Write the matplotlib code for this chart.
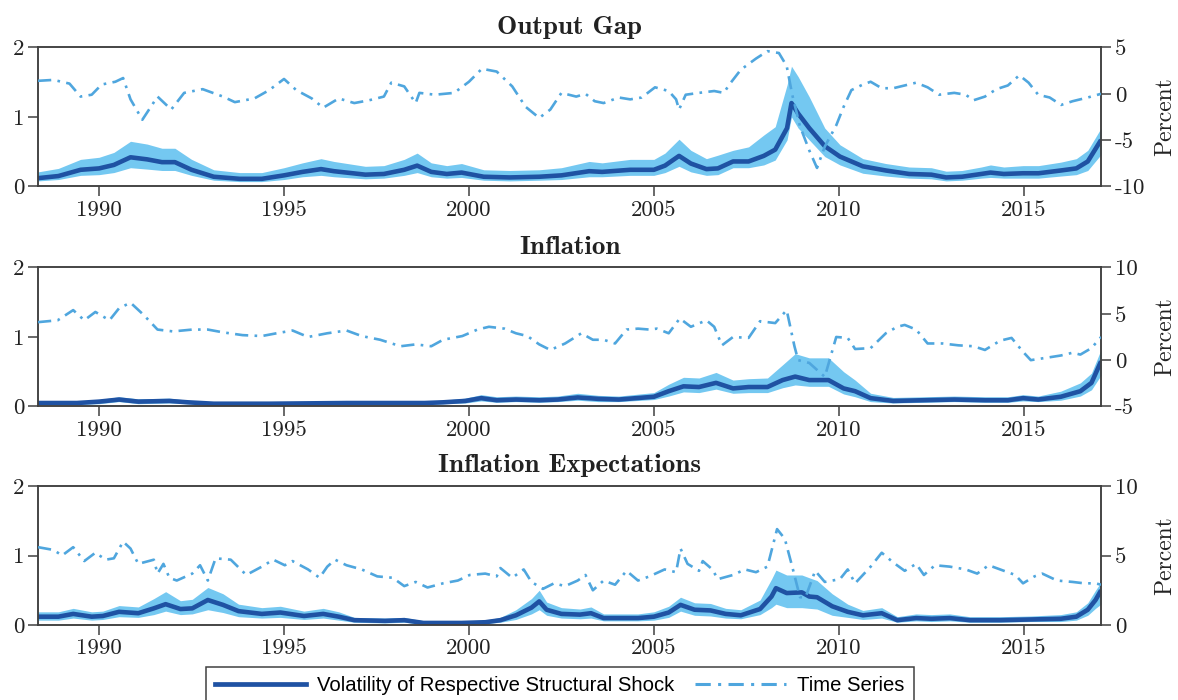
import matplotlib
matplotlib.use("Agg")
import matplotlib.pyplot as plt
from matplotlib.lines import Line2D

plt.rcParams['axes.unicode_minus'] = False
plt.rcParams['axes.formatter.use_mathtext'] = True

# ---------------- data ----------------
titles = ["Output Gap", "Inflation", "Inflation Expectations"]
years = [1990, 1995, 2000, 2005, 2010, 2015]
left_ticks = [0, 1, 2]
right_ticks_1 = [-10, -5, 0, 5]
right_ticks_2 = [-5, 0, 5, 10]
right_ticks_3 = [0, 5, 10]

# Panel 1: Output gap
vol1_dates = [1988.35, 1988.9, 1989.5, 1990.0, 1990.4, 1990.85, 1991.3, 1991.7, 1992.05, 1992.5,
              1993.1, 1993.8, 1994.4, 1995.0, 1995.5, 1996.0, 1996.35, 1997.2, 1997.7, 1998.25,
              1998.6, 1998.98, 1999.4, 1999.8, 2000.4, 2001.1, 2001.9, 2002.5, 2003.25, 2003.6,
              2004.36, 2005.0, 2005.3, 2005.68, 2006.0, 2006.42, 2006.73, 2007.14, 2007.56, 2007.97,
              2008.28, 2008.6, 2008.72, 2008.9, 2009.2, 2009.62, 2010.03, 2010.65, 2011.27, 2011.9,
              2012.5, 2012.9, 2013.33, 2013.85, 2014.1, 2014.46, 2014.98, 2015.4, 2016.0, 2016.42,
              2016.73, 2017.09]
vol1 = [0.12, 0.15, 0.24, 0.26, 0.31, 0.42, 0.39, 0.35, 0.35, 0.24,
        0.14, 0.11, 0.11, 0.16, 0.21, 0.25, 0.22, 0.17, 0.18, 0.24,
        0.30, 0.21, 0.18, 0.20, 0.14, 0.13, 0.14, 0.16, 0.22, 0.21,
        0.24, 0.24, 0.30, 0.44, 0.33, 0.25, 0.26, 0.36, 0.36, 0.44,
        0.53, 0.84, 1.20, 1.05, 0.84, 0.58, 0.43, 0.29, 0.23, 0.18,
        0.17, 0.13, 0.14, 0.18, 0.20, 0.18, 0.19, 0.19, 0.23, 0.26,
        0.36, 0.67]
vol1_up = [0.21, 0.26, 0.39, 0.42, 0.49, 0.65, 0.61, 0.55, 0.55, 0.39,
           0.24, 0.20, 0.20, 0.27, 0.34, 0.40, 0.36, 0.29, 0.30, 0.39,
           0.48, 0.34, 0.30, 0.33, 0.24, 0.23, 0.24, 0.27, 0.36, 0.34,
           0.39, 0.39, 0.48, 0.68, 0.52, 0.40, 0.45, 0.52, 0.57, 0.74,
           0.86, 1.46, 1.73, 1.58, 1.29, 0.84, 0.60, 0.40, 0.33, 0.28,
           0.27, 0.22, 0.23, 0.28, 0.31, 0.28, 0.30, 0.30, 0.35, 0.40,
           0.52, 0.84]
vol1_lo = [0.08, 0.10, 0.16, 0.17, 0.20, 0.27, 0.25, 0.23, 0.23, 0.16,
           0.09, 0.07, 0.07, 0.10, 0.14, 0.16, 0.14, 0.11, 0.12, 0.16,
           0.20, 0.14, 0.12, 0.13, 0.09, 0.08, 0.09, 0.10, 0.14, 0.14,
           0.16, 0.16, 0.20, 0.29, 0.21, 0.16, 0.17, 0.27, 0.27, 0.31,
           0.38, 0.67, 1.00, 0.84, 0.67, 0.43, 0.31, 0.19, 0.15, 0.12,
           0.11, 0.08, 0.09, 0.12, 0.13, 0.12, 0.12, 0.12, 0.15, 0.17,
           0.23, 0.46]
ts1_dates = [1988.35, 1988.77, 1989.2, 1989.5, 1989.8, 1990.07, 1990.44, 1990.65, 1990.85, 1991.17,
             1991.58, 1991.95, 1992.3, 1992.8, 1993.35, 1993.67, 1994.2, 1994.6, 1995.0, 1995.33,
             1995.75, 1996.06, 1996.48, 1996.9, 1997.3, 1997.7, 1997.9, 1998.25, 1998.56, 1998.66,
             1999.08, 1999.6, 2000.0, 2000.35, 2000.75, 2001.17, 2001.53, 2001.9, 2002.2, 2002.5,
             2002.9, 2003.15, 2003.4, 2003.64, 2004.05, 2004.36, 2004.67, 2005.03, 2005.4, 2005.6,
             2005.68, 2005.86, 2006.22, 2006.63, 2006.89, 2007.04, 2007.35, 2007.76, 2008.07, 2008.38,
             2008.59, 2008.74, 2008.95, 2009.2, 2009.41, 2009.62, 2009.93, 2010.13, 2010.34, 2010.65,
             2010.86, 2011.16, 2011.47, 2011.78, 2012.09, 2012.4, 2012.71, 2013.12, 2013.43, 2013.64,
             2013.95, 2014.26, 2014.57, 2014.88, 2015.13, 2015.39, 2015.7, 2016.01, 2016.32, 2016.73,
             2017.09]
ts1 = [1.4, 1.5, 1.1, -0.3, -0.1, 1.0, 1.3, 1.7, -0.6, -2.8,
       -0.3, -1.7, 0.1, 0.5, -0.3, -0.9, -0.5, 0.4, 1.6, 0.4,
       -0.5, -1.5, -0.5, -1.0, -0.7, -0.3, 1.2, 0.8, -1.0, 0.1,
       -0.1, 0.1, 1.3, 2.7, 2.4, 0.8, -1.4, -2.6, -1.7, 0.1,
       -0.3, 0.0, -0.8, -1.0, -0.4, -0.6, -0.4, 0.7, 0.3, -0.6,
       -1.7, -0.1, 0.1, 0.3, 0.1, 1.0, 2.6, 3.8, 4.6, 4.4,
       3.0, -0.1, -3.5, -6.1, -8.0, -5.7, -3.4, -1.4, 0.4, 1.0,
       1.3, 0.6, 0.6, 0.9, 1.2, 0.7, -0.1, 0.1, -0.1, -0.7,
       -0.3, 0.5, 0.9, 2.0, 1.2, -0.1, -0.4, -1.2, -0.8, -0.4,
       0.0]

# Panel 2: Inflation
vol2_dates = [1988.35, 1989.4, 1990.0, 1990.54, 1991.06, 1991.9, 1992.4, 1993.1, 1994.6, 1996.7,
              1998.8, 1999.3, 1999.9, 2000.33, 2000.75, 2001.27, 2001.9, 2002.4, 2002.94, 2003.5,
              2004.05, 2005.0, 2005.4, 2005.8, 2006.22, 2006.68, 2007.14, 2007.56, 2008.07, 2008.48,
              2008.82, 2009.2, 2009.72, 2010.13, 2010.44, 2010.86, 2011.47, 2012.3, 2013.12, 2013.95,
              2014.57, 2014.98, 2015.39, 2016.0, 2016.53, 2016.83, 2017.09]
vol2 = [0.05, 0.05, 0.07, 0.10, 0.07, 0.08, 0.06, 0.04, 0.04, 0.05,
        0.05, 0.06, 0.08, 0.12, 0.09, 0.10, 0.09, 0.10, 0.13, 0.11,
        0.10, 0.14, 0.22, 0.29, 0.28, 0.34, 0.26, 0.28, 0.28, 0.38,
        0.43, 0.38, 0.38, 0.26, 0.22, 0.12, 0.08, 0.09, 0.10, 0.09,
        0.09, 0.12, 0.10, 0.14, 0.22, 0.34, 0.65]
vol2_up = [0.07, 0.07, 0.10, 0.14, 0.11, 0.12, 0.09, 0.06, 0.06, 0.07,
           0.07, 0.09, 0.12, 0.17, 0.14, 0.15, 0.14, 0.15, 0.19, 0.16,
           0.15, 0.20, 0.32, 0.42, 0.41, 0.49, 0.38, 0.40, 0.41, 0.60,
           0.76, 0.70, 0.70, 0.50, 0.38, 0.19, 0.13, 0.14, 0.15, 0.14,
           0.14, 0.17, 0.15, 0.22, 0.34, 0.48, 0.82]
vol2_lo = [0.03, 0.03, 0.04, 0.07, 0.04, 0.05, 0.04, 0.02, 0.02, 0.03,
           0.03, 0.04, 0.05, 0.08, 0.06, 0.07, 0.06, 0.07, 0.09, 0.07,
           0.07, 0.10, 0.15, 0.21, 0.20, 0.25, 0.19, 0.20, 0.20, 0.27,
           0.31, 0.29, 0.29, 0.18, 0.14, 0.07, 0.05, 0.06, 0.07, 0.06,
           0.06, 0.08, 0.07, 0.09, 0.15, 0.24, 0.45]
ts2_dates = [1988.35, 1988.88, 1989.3, 1989.6, 1989.9, 1990.28, 1990.54, 1990.85, 1991.2, 1991.58,
             1992.0, 1992.52, 1992.94, 1993.35, 1993.88, 1994.4, 1994.8, 1995.23, 1995.65, 1996.17,
             1996.69, 1997.1, 1997.6, 1998.15, 1998.56, 1998.98, 1999.3, 1999.82, 2000.23, 2000.54,
             2000.96, 2001.27, 2001.58, 2001.9, 2002.2, 2002.6, 2003.04, 2003.35, 2003.64, 2003.95,
             2004.26, 2004.57, 2004.88, 2005.08, 2005.4, 2005.7, 2006.0, 2006.42, 2006.63, 2006.84,
             2007.14, 2007.56, 2007.87, 2008.28, 2008.59, 2008.8, 2008.9, 2009.2, 2009.62, 2009.93,
             2010.24, 2010.44, 2010.86, 2011.27, 2011.58, 2011.78, 2012.09, 2012.4, 2012.8, 2013.23,
             2013.64, 2013.95, 2014.36, 2014.67, 2014.98, 2015.19, 2015.6, 2016.0, 2016.32, 2016.53,
             2016.83, 2017.09]
ts2 = [4.1, 4.3, 5.4, 4.3, 5.2, 4.3, 5.6, 6.2, 4.9, 3.3,
       3.1, 3.3, 3.3, 3.0, 2.7, 2.6, 2.9, 3.2, 2.5, 2.9,
       3.2, 2.6, 2.2, 1.5, 1.7, 1.5, 2.2, 2.6, 3.3, 3.6,
       3.4, 2.9, 2.6, 1.7, 1.1, 1.8, 2.9, 2.2, 2.2, 1.8,
       3.3, 3.4, 3.3, 3.4, 2.9, 4.5, 3.6, 4.3, 3.6, 1.6,
       2.5, 2.4, 4.2, 4.0, 5.4, 1.5, 0.0, -0.3, -1.8, 2.5,
       2.4, 1.2, 1.3, 2.9, 3.6, 3.8, 3.3, 1.8, 1.8, 1.6,
       1.5, 1.1, 2.1, 2.4, 0.9, 0.0, 0.25, 0.5, 0.8, 0.6,
       1.3, 2.5]

# Panel 3: Inflation expectations
vol3_dates = [1988.35, 1988.9, 1989.3, 1989.8, 1990.1, 1990.54, 1991.06, 1991.48, 1991.8, 1992.2,
              1992.52, 1992.94, 1993.35, 1993.77, 1994.4, 1994.9, 1995.54, 1996.06, 1996.48, 1996.9,
              1997.73, 1998.25, 1998.77, 1999.8, 2000.44, 2000.85, 2001.27, 2001.69, 2001.9, 2002.1,
              2002.5, 2003.0, 2003.3, 2003.64, 2004.57, 2005.0, 2005.4, 2005.72, 2006.1, 2006.53,
              2006.94, 2007.35, 2007.87, 2008.18, 2008.3, 2008.59, 2009.0, 2009.2, 2009.41, 2009.82,
              2010.24, 2010.65, 2011.16, 2011.58, 2012.09, 2012.5, 2013.0, 2013.54, 2014.36, 2015.19,
              2016.0, 2016.42, 2016.73, 2016.94, 2017.09]
vol3 = [0.12, 0.12, 0.16, 0.12, 0.13, 0.19, 0.17, 0.24, 0.30, 0.23,
        0.24, 0.36, 0.29, 0.20, 0.16, 0.18, 0.13, 0.16, 0.12, 0.07,
        0.06, 0.07, 0.03, 0.03, 0.04, 0.07, 0.14, 0.25, 0.34, 0.22,
        0.16, 0.15, 0.17, 0.10, 0.10, 0.12, 0.18, 0.29, 0.22, 0.21,
        0.16, 0.14, 0.23, 0.41, 0.53, 0.46, 0.47, 0.41, 0.40, 0.27,
        0.19, 0.14, 0.17, 0.07, 0.10, 0.09, 0.10, 0.07, 0.07, 0.08,
        0.09, 0.12, 0.22, 0.36, 0.50]
vol3_up = [0.19, 0.19, 0.24, 0.19, 0.20, 0.28, 0.26, 0.38, 0.48, 0.35,
           0.37, 0.54, 0.45, 0.30, 0.25, 0.27, 0.20, 0.24, 0.19, 0.11,
           0.10, 0.11, 0.06, 0.06, 0.07, 0.11, 0.22, 0.38, 0.50, 0.33,
           0.25, 0.23, 0.26, 0.16, 0.16, 0.19, 0.27, 0.40, 0.32, 0.31,
           0.24, 0.22, 0.36, 0.66, 0.79, 0.72, 0.72, 0.68, 0.64, 0.45,
           0.30, 0.21, 0.25, 0.12, 0.16, 0.15, 0.16, 0.12, 0.12, 0.13,
           0.15, 0.19, 0.32, 0.50, 0.62]
vol3_lo = [0.07, 0.07, 0.10, 0.07, 0.08, 0.12, 0.11, 0.15, 0.20, 0.15,
           0.16, 0.22, 0.18, 0.12, 0.10, 0.11, 0.08, 0.10, 0.07, 0.04,
           0.03, 0.04, 0.01, 0.01, 0.02, 0.04, 0.08, 0.16, 0.22, 0.14,
           0.10, 0.09, 0.10, 0.06, 0.06, 0.07, 0.11, 0.20, 0.14, 0.13,
           0.10, 0.09, 0.15, 0.25, 0.30, 0.25, 0.25, 0.24, 0.23, 0.14,
           0.11, 0.08, 0.10, 0.04, 0.06, 0.05, 0.06, 0.04, 0.04, 0.05,
           0.05, 0.07, 0.14, 0.24, 0.30]
ts3_dates = [1988.35, 1988.77, 1989.0, 1989.3, 1989.6, 1989.9, 1990.18, 1990.4, 1990.65, 1990.85,
             1991.06, 1991.48, 1991.58, 1991.74, 1991.9, 1992.1, 1992.52, 1992.73, 1992.94, 1993.15,
             1993.56, 1993.98, 1994.4, 1994.71, 1995.02, 1995.23, 1995.65, 1995.96, 1996.17, 1996.38,
             1996.69, 1997.1, 1997.52, 1997.94, 1998.25, 1998.56, 1998.88, 1999.3, 1999.7, 2000.02,
             2000.44, 2000.75, 2000.85, 2001.17, 2001.48, 2001.69, 2002.0, 2002.3, 2002.6, 2002.94,
             2003.15, 2003.35, 2003.64, 2003.95, 2004.26, 2004.57, 2004.88, 2005.29, 2005.6, 2005.72,
             2005.91, 2006.22, 2006.32, 2006.58, 2006.73, 2007.14, 2007.46, 2007.76, 2008.07, 2008.33,
             2008.54, 2008.74, 2008.95, 2009.1, 2009.36, 2009.62, 2010.03, 2010.24, 2010.44, 2010.86,
             2011.16, 2011.47, 2011.78, 2012.09, 2012.3, 2012.6, 2013.0, 2013.43, 2013.74, 2014.05,
             2014.36, 2014.77, 2014.98, 2015.29, 2015.5, 2015.9, 2016.32, 2016.63, 2016.94, 2017.09]
ts3 = [5.6, 5.4, 5.0, 5.6, 4.6, 5.2, 4.7, 4.8, 6.0, 5.5,
       4.4, 4.7, 3.7, 4.4, 3.4, 3.2, 3.7, 4.3, 3.2, 4.8,
       4.7, 3.6, 4.2, 4.7, 4.3, 4.6, 4.0, 3.4, 4.2, 4.7,
       4.3, 4.0, 3.5, 3.4, 2.8, 3.1, 2.7, 3.0, 3.2, 3.6,
       3.7, 3.5, 4.1, 3.4, 4.0, 3.1, 2.6, 3.0, 2.8, 3.2,
       3.6, 2.5, 3.2, 2.9, 3.9, 3.2, 3.5, 4.0, 3.8, 5.5,
       4.4, 3.9, 4.6, 4.0, 3.3, 3.6, 4.0, 3.8, 4.2, 6.9,
       6.2, 4.2, 2.0, 2.0, 3.9, 3.1, 3.3, 4.0, 3.0, 4.2,
       5.2, 4.5, 3.9, 4.4, 3.6, 4.3, 4.2, 4.0, 3.7, 4.3,
       4.0, 3.6, 3.0, 3.5, 3.7, 3.2, 3.1, 3.0, 3.0, 2.9]

legend_labels = ["Volatility of Respective Structural Shock", "Time Series"]

# ---------------- style ----------------
DARK = "#1f52a3"
BAND = "#74c8f1"
DASH = "#4fa6de"
SPINE = "#404040"
TICKFONT = "cmr10"
DASHSTYLE = (0, (5.0, 2.4, 1.0, 2.4))

panels = [
    (titles[0], vol1_dates, vol1, vol1_lo, vol1_up, ts1_dates, ts1, (-10, 5), right_ticks_1),
    (titles[1], vol2_dates, vol2, vol2_lo, vol2_up, ts2_dates, ts2, (-5, 10), right_ticks_2),
    (titles[2], vol3_dates, vol3, vol3_lo, vol3_up, ts3_dates, ts3, (0, 10), right_ticks_3),
]
bottoms = [0.7336, 0.4193, 0.1071]
LEFT, WIDTH, HEIGHT = 0.0323, 0.9024, 0.1986

fig = plt.figure(figsize=(11.78, 7.0), dpi=100)

def style_axis(a):
    for s in a.spines.values():
        s.set_color(SPINE)
        s.set_linewidth(1.1)
    a.tick_params(which="both", direction="out", length=7, width=1.1, color=SPINE,
                  labelsize=16.5, labelcolor="#222222", pad=3)
    for lab in a.get_xticklabels() + a.get_yticklabels():
        lab.set_fontfamily(TICKFONT)

for (title, vd, v, lo, up, td, ts, rlim, rticks), b in zip(panels, bottoms):
    ax = fig.add_axes([LEFT, b, WIDTH, HEIGHT])
    ax.fill_between(vd, lo, up, color=BAND, lw=0, zorder=1)
    ax.plot(vd, v, color=DARK, lw=3.3, zorder=2, solid_capstyle="butt")
    ax.set_xlim(1988.35, 2017.09)
    ax.set_ylim(0, 2)
    ax.set_yticks(left_ticks)
    ax.set_xticks(years)
    ax.set_xticklabels([str(y) for y in years])
    ax.set_yticklabels([str(t) for t in left_ticks])
    ax.tick_params(axis="y", right=False)
    ax2 = ax.twinx()
    ax2.plot(td, ts, color=DASH, lw=1.9, linestyle=DASHSTYLE, zorder=3)
    ax2.set_ylim(*rlim)
    ax2.set_yticks(rticks)
    ax2.set_yticklabels([str(t) for t in rticks])
    ax2.set_ylabel("Percent", fontfamily=TICKFONT, fontsize=17, color="#222222")
    ax2.yaxis.set_label_coords(1.050, 0.5)
    style_axis(ax)
    style_axis(ax2)
    ax.set_title(title, fontfamily="cmb10", fontsize=19.5, pad=10, color="#222222")

handles = [Line2D([], [], color=DARK, lw=3.4),
           Line2D([], [], color=DASH, lw=2.2, linestyle=DASHSTYLE)]
leg = fig.legend(handles, legend_labels, loc="upper center", bbox_to_anchor=(0.475, 1 - 667 / 700),
                 ncol=2, frameon=True, fancybox=False, edgecolor=SPINE, framealpha=1,
                 prop={"family": "Liberation Sans", "size": 14.6}, handlelength=4.5,
                 handletextpad=0.55, columnspacing=1.0, borderpad=0.45, borderaxespad=0)
leg.get_frame().set_linewidth(1.1)

fig.savefig("out.png", dpi=100)
